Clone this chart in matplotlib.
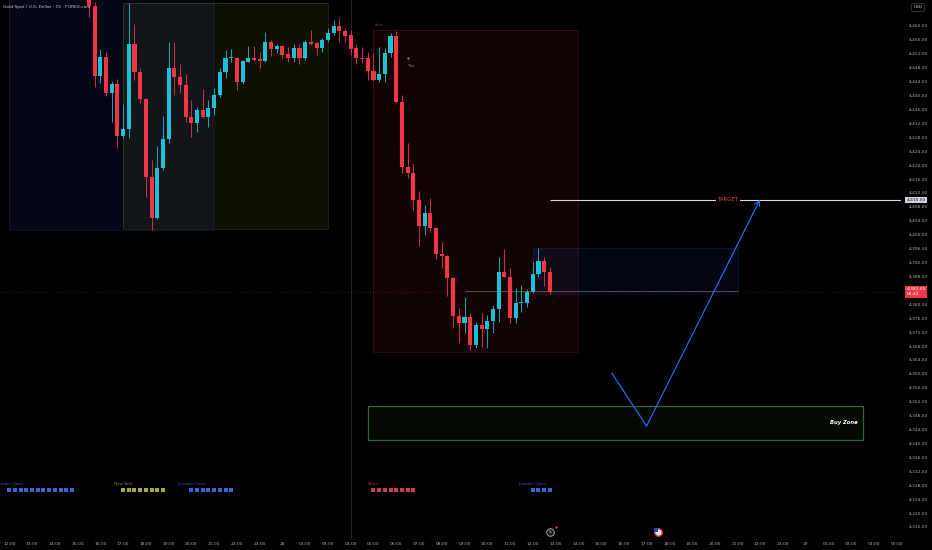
import matplotlib
matplotlib.use("Agg")
import matplotlib.pyplot as plt
from matplotlib.patches import Rectangle
from matplotlib.transforms import blended_transform_factory
import numpy as np

# ---------------- data ----------------
bar_index = list(range(14, 96))
opens = [4469.5, 4465.7, 4445.6, 4451.2, 4440.8, 4443.2, 4428.5, 4430.5, 4454.7, 4446.9,
         4438.9, 4416.5, 4404.7, 4419.3, 4427.4, 4448.0, 4445.3, 4443.0, 4433.9, 4432.0,
         4435.9, 4433.9, 4436.5, 4440.2, 4446.9, 4450.9, 4450.9, 4444.0, 4449.7, 4450.7,
         4450.5, 4450.0, 4455.5, 4453.4, 4454.3, 4451.9, 4450.9, 4453.6, 4450.7, 4455.3,
         4455.0, 4453.6, 4456.0, 4457.9, 4460.0, 4458.6, 4457.4, 4453.6, 4450.8, 4450.9,
         4447.1, 4444.5, 4446.2, 4452.2, 4457.2, 4438.1, 4419.6, 4417.7, 4410.0, 4402.5,
         4406.2, 4402.0, 4394.5, 4394.0, 4387.7, 4376.6, 4374.7, 4376.4, 4368.3, 4374.0,
         4373.0, 4375.2, 4378.6, 4389.4, 4387.9, 4376.0, 4380.3, 4380.3, 4383.5, 4388.7,
         4392.5, 4389.4]
highs = [4471.0, 4467.0, 4453.3, 4452.4, 4444.2, 4444.8, 4437.6, 4466.5, 4460.6, 4447.8,
         4439.2, 4421.5, 4425.6, 4434.1, 4455.5, 4455.3, 4449.1, 4446.2, 4438.7, 4436.8,
         4441.8, 4438.7, 4442.1, 4447.8, 4453.1, 4453.3, 4451.2, 4450.2, 4454.3, 4454.3,
         4452.6, 4458.2, 4456.0, 4454.7, 4454.6, 4453.9, 4454.8, 4454.8, 4456.0, 4458.9,
         4455.5, 4456.6, 4459.5, 4461.7, 4462.2, 4459.5, 4458.6, 4454.8, 4454.0, 4452.6,
         4452.3, 4454.0, 4453.6, 4457.9, 4458.6, 4440.2, 4426.5, 4420.3, 4412.7, 4408.5,
         4410.5, 4402.2, 4398.0, 4394.2, 4387.9, 4378.9, 4382.2, 4377.4, 4375.0, 4377.4,
         4376.9, 4379.8, 4393.7, 4395.8, 4390.4, 4384.6, 4385.6, 4384.3, 4392.3, 4396.1,
         4393.7, 4390.8]
lows = [4462.7, 4442.5, 4443.5, 4439.9, 4432.5, 4425.0, 4427.7, 4427.7, 4444.5, 4437.8,
        4410.9, 4401.4, 4404.4, 4418.6, 4426.3, 4440.2, 4440.8, 4432.5, 4428.2, 4429.6,
        4433.5, 4431.1, 4434.4, 4439.7, 4445.0, 4449.7, 4441.6, 4443.3, 4449.6, 4450.0,
        4447.8, 4449.7, 4451.4, 4452.2, 4450.5, 4449.7, 4449.7, 4449.2, 4450.3, 4454.5,
        4451.7, 4452.4, 4455.5, 4457.4, 4455.5, 4455.5, 4451.7, 4449.2, 4449.3, 4444.5,
        4444.3, 4444.0, 4444.0, 4451.2, 4437.8, 4417.7, 4416.2, 4407.1, 4396.8, 4399.9,
        4400.9, 4392.9, 4390.4, 4382.4, 4373.6, 4368.8, 4371.7, 4366.9, 4367.4, 4367.8,
        4367.4, 4371.7, 4375.0, 4387.8, 4374.5, 4374.5, 4377.9, 4379.3, 4383.2, 4387.9,
        4385.3, 4383.0]
closes = [4465.7, 4445.6, 4451.2, 4440.8, 4443.2, 4428.5, 4430.5, 4454.7, 4446.9, 4438.9,
          4416.5, 4404.7, 4419.3, 4427.4, 4448.0, 4445.3, 4443.0, 4433.9, 4432.0, 4435.9,
          4433.9, 4436.5, 4440.2, 4446.9, 4450.9, 4451.1, 4444.0, 4449.9, 4450.7, 4450.2,
          4450.0, 4455.5, 4453.4, 4454.3, 4451.7, 4450.9, 4453.6, 4450.7, 4455.3, 4454.8,
          4453.6, 4456.0, 4457.9, 4460.0, 4458.6, 4457.2, 4453.4, 4450.7, 4450.6, 4447.1,
          4444.5, 4446.2, 4452.2, 4457.2, 4438.1, 4419.6, 4417.7, 4410.0, 4402.5, 4406.2,
          4402.0, 4394.4, 4393.9, 4387.5, 4376.6, 4374.7, 4376.4, 4368.3, 4374.0, 4373.0,
          4375.2, 4378.6, 4389.4, 4387.9, 4376.0, 4380.3, 4380.8, 4383.5, 4388.7, 4392.5,
          4389.4, 4383.65]

time_labels = ['12:00', '13:00', '14:00', '15:00', '16:00', '17:00', '18:00', '19:00',
               '20:00', '21:00', '22:00', '23:00', '28', '01:00', '03:00', '04:00',
               '05:00', '06:00', '07:00', '08:00', '09:00', '10:00', '11:00', '12:00',
               '13:00', '14:00', '15:00', '16:00', '17:00', '18:00', '19:00', '20:00',
               '21:00', '22:00', '23:00', '29', '01:00', '03:00', '04:00', '05:00']
bars_per_label = 4

price_ticks = list(range(4316, 4461, 4))
hidden_tick = 4384          # covered by the last-price label in the reference
last_price = 4383.65
countdown = '08:44'
target_price = 4410.0

# session boxes: (start bar, end bar, low, high, colour, alpha)
session_boxes = [
    (0, 36, 4401.4, 4475.0, '#3355ff', 0.09),
    (20, 56, 4401.6, 4466.5, '#d6d63a', 0.075),
    (64, 100, 4366.4, 4458.9, '#f23645', 0.075),
    (92, 128, 4383.0, 4396.2, '#2962ff', 0.08),
]
buy_zone = (63, 150, 4341.0, 4350.9)
range_line = (80, 128, 4383.9)

# session markers: (label, first bar, count, colour)
session_marks = [
    ('London Open', 0, 12, '#3f62d8'),
    ('New York', 20, 8, '#a9a93c'),
    ('London Close', 32, 8, '#3f62d8'),
    ('Asian', 64, 8, '#cf3e50'),
    ('London Open', 92, 4, '#3f62d8'),
]

path_x = [105.9, 112.0, 131.9]
path_y = [4360.2, 4345.0, 4410.0]

session_line_bar = 60

# ---------------- figure ----------------
W, H = 932, 550
fig = plt.figure(figsize=(W / 100, H / 100), dpi=100, facecolor='black')
ax = fig.add_axes([0, 11 / H, 901 / W, 539 / H])
ax.set_facecolor('black')
for s in ax.spines.values():
    s.set_visible(False)

px_per_bar = 5.69
x0_px = 9.3
ax.set_xlim((0 - x0_px) / px_per_bar, (901 - x0_px) / px_per_bar)
ax.set_ylim(4312.54, 4467.47)

# session boxes
for (b0, b1, lo, hi, col, a) in session_boxes:
    ax.add_patch(Rectangle((b0, lo), b1 - b0, hi - lo, facecolor=col, alpha=a,
                           edgecolor='none', zorder=1))
    ax.add_patch(Rectangle((b0, lo), b1 - b0, hi - lo, facecolor='none',
                           edgecolor=col, alpha=0.18, lw=0.6, zorder=1))

# session break line
ax.axvline(session_line_bar, color='#262626', lw=0.8, zorder=1)

# last price line
ax.axhline(last_price, color='#f23645', alpha=0.3, lw=0.5, ls=(0, (1, 1.5)), zorder=1)
ax.hlines(range_line[2], range_line[0], range_line[1], color='#555a60', lw=0.6, zorder=2)

# buy zone
bz0, bz1, bzl, bzh = buy_zone
ax.add_patch(Rectangle((bz0, bzl), bz1 - bz0, bzh - bzl, facecolor='#3c8a3c', alpha=0.07,
                       edgecolor='none', zorder=2))
ax.add_patch(Rectangle((bz0, bzl), bz1 - bz0, bzh - bzl, facecolor='none',
                       edgecolor='#2f6a34', lw=0.9, zorder=2))
ax.text(bz1 - 0.9, (bzl + bzh) / 2, 'Buy Zone', color='white', fontsize=3.8,
        fontweight='bold', fontstyle='italic', ha='right', va='center', zorder=5)

# candles
up_col, dn_col = '#1fbfd6', '#f23645'
xs = np.array(bar_index)
o = np.array(opens); h = np.array(highs); l = np.array(lows); c = np.array(closes)
cols = np.where(c >= o, up_col, dn_col)
ax.vlines(xs, l, h, colors=cols, lw=0.6, zorder=3)
bottoms = np.minimum(o, c)
heights = np.maximum(np.abs(c - o), 0.3)
ax.bar(xs, heights, bottom=bottoms, width=0.72, color=cols, edgecolor='none', zorder=4)

# marker "Tha"
ax.scatter([70.07], [4450.8], s=2.5, color='#8a8a8a', zorder=5, linewidths=0)
ax.text(70.07, 4449.2, 'Tha', fontsize=2.4, color='#8a8a8a', ha='left', va='top', zorder=5)
ax.text(64.2, 4459.6, 'Asian', fontsize=2.3, color='#5a3a3e', ha='left', va='bottom', zorder=5)

# target
ax.hlines(target_price, 95.0, ax.get_xlim()[1], color='#d9d9d9', lw=0.8, zorder=5)
ax.text(126.3, target_price, 'TARGET', color='#f23645', fontsize=3.9, ha='center',
        va='center', zorder=6,
        bbox=dict(boxstyle='square,pad=0.35', facecolor='black', edgecolor='none'))

# path arrow
blue = '#2f62e6'
ax.plot(path_x[:2], path_y[:2], color=blue, lw=0.9, zorder=6, solid_capstyle='round')
ax.annotate('', xy=(path_x[2], path_y[2]), xytext=(path_x[1], path_y[1]),
            arrowprops=dict(arrowstyle='->,head_length=0.35,head_width=0.2', color=blue,
                            lw=0.9, shrinkA=0, shrinkB=0), zorder=6)

# session markers
mark_y = 4326.6
for (name, b, n, col) in session_marks:
    ax.scatter(np.arange(b, b + n), [mark_y] * n, marker='s', s=6.5, color=col,
               linewidths=0, zorder=5)
    ax.text(b, mark_y + 1.2, name, fontsize=2.9, color=col, alpha=0.85, ha='center',
            va='bottom', zorder=5)

# bottom event icons
icon_y = 4314.6
ax.scatter([95.0], [icon_y], s=30, facecolor='#1a1a1a', edgecolor='#a0a3aa', linewidths=0.7,
           zorder=6, clip_on=False)
ax.text(95.0, icon_y, '$', fontsize=3.2, color='#c8c8c8', ha='center', va='center', zorder=7)
ax.scatter([96.0], [icon_y + 1.4], s=3, color='#f23645', zorder=7, linewidths=0)
ax.scatter([114.0], [icon_y], s=30, facecolor='#e6e6e6', edgecolor='#c8323e', linewidths=1.0,
           zorder=6, clip_on=False)
ax.scatter([113.6], [icon_y + 0.5], s=5, marker='s', color='#2c4aa0', zorder=7, linewidths=0)

# axes ticks
ax.yaxis.tick_right()
ax.set_yticks(price_ticks)
ax.set_yticklabels(['' if p == hidden_tick else f'{p:,.2f}' for p in price_ticks])
ax.set_xticks([k * bars_per_label for k in range(len(time_labels))])
ax.set_xticklabels(time_labels)
ax.tick_params(axis='both', length=0, labelsize=3.2, labelcolor='#a7aab0')
ax.tick_params(axis='y', pad=5.8)
ax.tick_params(axis='x', pad=2.2)

# right axis price labels
tr = blended_transform_factory(ax.transAxes, ax.transData)
lx = 906.5 / 901
ax.text(lx, target_price, f'{target_price:,.2f}', transform=tr, fontsize=3.2, color='#131722',
        ha='left', va='center', zorder=10, clip_on=False,
        bbox=dict(boxstyle='square,pad=0.3', facecolor='#d1d4dc', edgecolor='none'))
ax.text(lx, last_price + 1.2, f'{last_price:,.2f}\n{countdown}', transform=tr, fontsize=3.2,
        color='white', ha='left', va='top', zorder=10, clip_on=False, linespacing=1.3,
        bbox=dict(boxstyle='square,pad=0.3', facecolor='#f23645', edgecolor='none'))

# title and currency
fig.text(3 / W, 1 - 6.7 / H, 'Gold Spot / U.S. Dollar · 15 · FOREX.com', fontsize=3.2,
         color='#c9cbd0', ha='left', va='center')
fig.text(918 / W, 1 - 7.5 / H, 'USD', fontsize=3.2, color='#c9cbd0', ha='center', va='center',
         bbox=dict(boxstyle='round,pad=0.5', facecolor='black', edgecolor='#3a3a3a', lw=0.6))

fig.savefig('out.png', dpi=100, facecolor='black')
